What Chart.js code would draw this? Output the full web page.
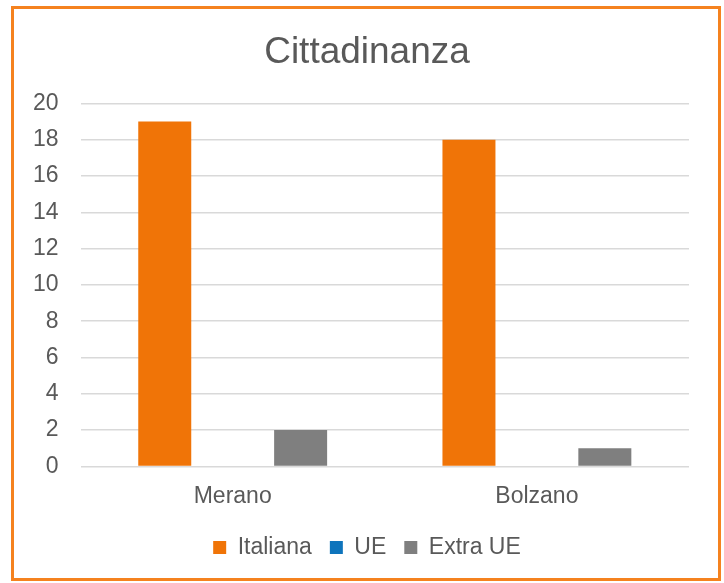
<!DOCTYPE html>
<html>
<head>
<meta charset="utf-8">
<script src="https://cdn.jsdelivr.net/npm/chart.js@4"></script>
<style>
  html, body { margin: 0; padding: 0; background: #fff; }
  .box {
    position: absolute; left: 11px; top: 6px;
    width: 704px; height: 569px;
    border: 3px solid #F5821F;
  }
  canvas { display: block; }
</style>
</head>
<body>
<div class="box"><canvas id="grafico" width="704" height="569"></canvas></div>
<script>
const citta = ["Merano", "Bolzano"];
const italiana = [19, 18];
const ue = [0, 0];
const extraUe = [2, 1];

const ctx = document.getElementById("grafico");
const grigio = "#595959";

new Chart(ctx, {
  type: "bar",
  data: {
    labels: citta,
    datasets: [
      { label: "Italiana", data: italiana, backgroundColor: "#F07407" },
      { label: "UE", data: ue, backgroundColor: "#0E74BC" },
      { label: "Extra UE", data: extraUe, backgroundColor: "#7F7F7F" }
    ]
  },
  options: {
    responsive: false,
    animation: false,
    categoryPercentage: 0.67,
    barPercentage: 0.78,
    layout: { padding: { top: 12, left: -3, right: -5, bottom: 9 } },
    scales: {
      x: {
        grid: { display: false },
        border: { display: false },
        ticks: { color: grigio, font: { family: "Liberation Sans", size: 23 }, padding: 8 }
      },
      y: {
        min: 0, max: 20,
        ticks: { stepSize: 2, color: grigio, font: { family: "Liberation Sans", size: 23 }, padding: 22 },
        grid: { color: "#D9D9D9", lineWidth: 1.5, drawTicks: false },
        border: { display: false }
      },
      // asse vuoto a destra, solo per lasciare margine
      margine: {
        position: "right",
        ticks: { display: false },
        grid: { display: false },
        border: { display: false },
        afterFit: (scale) => { scale.width = 34; }
      }
    },
    plugins: {
      title: {
        display: true,
        text: "Cittadinanza",
        color: grigio,
        font: { family: "Liberation Sans", size: 37, weight: "normal" },
        padding: { top: 10, bottom: 28 }
      },
      legend: {
        position: "bottom",
        labels: {
          color: grigio,
          font: { family: "Liberation Sans", size: 23 },
          boxWidth: 13, boxHeight: 13,
          padding: 18
        }
      },
      tooltip: { enabled: false }
    }
  }
});
</script>
</body>
</html>
